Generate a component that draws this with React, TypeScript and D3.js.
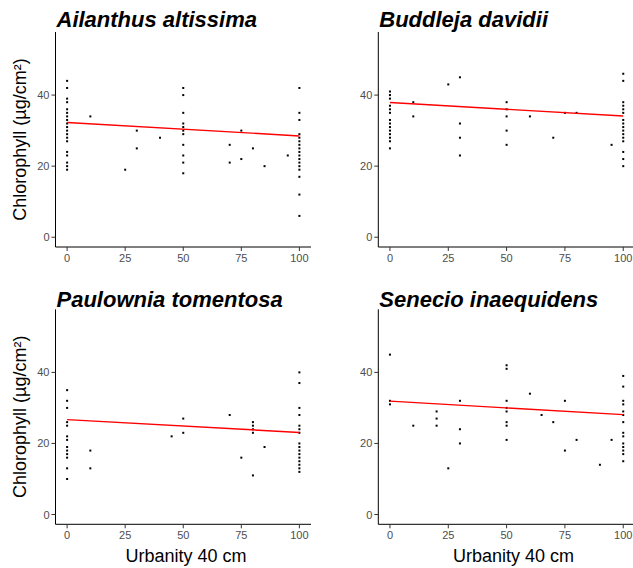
import React from "react";
import * as d3 from "d3";

// ---- data (urbanity x, chlorophyll y grouped by x) ----
const species = ["Ailanthus altissima", "Buddleja davidii", "Paulownia tomentosa", "Senecio inaequidens"];

const ailanthus: [number, number[]][] = [
  [0, [44, 42, 39, 38, 36, 35, 34, 33, 32, 31, 30, 29, 28, 27, 24, 23, 21, 20, 19]],
  [10, [34]], [25, [19]], [30, [30, 25]], [40, [28]],
  [50, [42, 40, 35, 32, 31, 30, 29, 26, 23, 21, 18]],
  [70, [26, 21]], [75, [30, 22]], [80, [25]], [85, [20]], [95, [23]],
  [100, [42, 35, 33, 29, 28, 27, 26, 25, 24, 23, 22, 21, 20, 19, 17, 12, 6]],
];
const buddleja: [number, number[]][] = [
  [0, [41, 40, 39, 37, 36, 35, 33, 32, 31, 30, 29, 28, 27, 25]],
  [10, [38, 34]], [25, [43]], [30, [45, 32, 28, 23]],
  [50, [38, 36, 34, 30, 26]],
  [60, [34]], [70, [28]], [75, [35]], [80, [35]], [95, [26]],
  [100, [46, 44, 38, 37, 36, 35, 33, 32, 31, 30, 29, 28, 27, 24, 22, 20]],
];
const paulownia: [number, number[]][] = [
  [0, [35, 32, 30, 26, 25, 22, 21, 19, 18, 17, 16, 13, 10]],
  [10, [18, 13]], [45, [22]], [50, [27, 23]], [70, [28]], [75, [16]],
  [80, [26, 25, 24, 23, 11]], [85, [19]],
  [100, [40, 37, 30, 28, 25, 24, 23, 20, 19, 18, 17, 16, 15, 14, 13, 12]],
];
const senecio: [number, number[]][] = [
  [0, [45, 32, 31]], [10, [25]], [20, [29, 27, 25]], [25, [13]], [30, [32, 24, 20]],
  [50, [42, 41, 32, 30, 29, 26, 25, 21]],
  [60, [34]], [65, [28]], [70, [26]], [75, [32, 18]], [80, [21]], [90, [14]], [95, [21]],
  [100, [39, 36, 32, 31, 29, 28, 26, 23, 22, 20, 19, 18, 17, 15]],
];
const seriesData = [ailanthus, buddleja, paulownia, senecio];

// fitted regression lines (intercept, slope)
const fitIntercept = [32.3, 37.9, 26.7, 31.9];
const fitSlope = [-0.038, -0.038, -0.036, -0.038];

const xTicks = [0, 25, 50, 75, 100];
const yTicks = [0, 20, 40];
const xDomain: [number, number] = [-5, 105];
const yDomain: [number, number] = [-2.75, 57.75];
const xTitle = "Urbanity 40 cm";
const yTitle = "Chlorophyll (µg/cm²)";

// ---- layout ----
const W = 633, H = 568;
const layout = [
  { left: 55.5, right: 311, top: 32, bottom: 247, titleY: 26.5, yLab: true, xLab: false, xLabX: 186 },
  { left: 378.3, right: 634.9, top: 32, bottom: 247, titleY: 26.5, yLab: false, xLab: false, xLabX: 513.5 },
  { left: 55.5, right: 311, top: 309.3, bottom: 524.3, titleY: 306.7, yLab: true, xLab: true, xLabX: 186 },
  { left: 378.3, right: 634.9, top: 309.3, bottom: 524.3, titleY: 306.7, yLab: false, xLab: true, xLabX: 513.5 },
];
const FONT = "Arial, 'Liberation Sans', sans-serif";

function Panel({ i }: { i: number }) {
  const L = layout[i];
  const x = d3.scaleLinear().domain(xDomain).range([L.left, L.right]);
  const y = d3.scaleLinear().domain(yDomain).range([L.bottom, L.top]);
  const pts: [number, number][] = [];
  seriesData[i].forEach(([xv, ys]) => ys.forEach((yv) => pts.push([xv, yv])));
  const line = d3.line<number>().x((d) => x(d)).y((d) => y(fitIntercept[i] + fitSlope[i] * d));
  return (
    <g>
      <text x={L.left + 1} y={L.titleY} fontFamily={FONT} fontSize={22} fontWeight="bold" fontStyle="italic" fill="#000">
        {species[i]}
      </text>
      {pts.map(([a, b], k) => (
        <rect key={k} x={x(a) - 1} y={y(b) - 1} width={2} height={2} fill="#000" />
      ))}
      <path d={line([0, 100]) || ""} stroke="#ff0000" strokeWidth={1.4} fill="none" />
      <line x1={L.left} x2={L.right} y1={L.bottom} y2={L.bottom} stroke="#000" strokeWidth={1} />
      <line x1={L.left} x2={L.left} y1={L.top} y2={L.bottom} stroke="#000" strokeWidth={1} />
      {xTicks.map((t) => (
        <g key={"x" + t}>
          <line x1={x(t)} x2={x(t)} y1={L.bottom} y2={L.bottom + 4} stroke="#333" strokeWidth={1} />
          <text x={x(t)} y={L.bottom + 15} textAnchor="middle" fontFamily={FONT} fontSize={11} fill="#4d4d4d">{t}</text>
        </g>
      ))}
      {yTicks.map((t) => (
        <g key={"y" + t}>
          <line x1={L.left - 4} x2={L.left} y1={y(t)} y2={y(t)} stroke="#333" strokeWidth={1} />
          <text x={L.left - 6} y={y(t) + 4} textAnchor="end" fontFamily={FONT} fontSize={11} fill="#4d4d4d">{t}</text>
        </g>
      ))}
      {L.yLab && (
        <text transform={`translate(26,${(L.top + L.bottom) / 2}) rotate(-90)`} textAnchor="middle" fontFamily={FONT} fontSize={18} fill="#000">
          {yTitle}
        </text>
      )}
      {L.xLab && (
        <text x={L.xLabX} y={561.7} textAnchor="middle" fontFamily={FONT} fontSize={18} fill="#000">
          {xTitle}
        </text>
      )}
    </g>
  );
}

export default function App() {
  return (
    <svg width={W} height={H} style={{ position: "fixed", left: 0, top: 0, background: "#fff" }}>
      <rect width={W} height={H} fill="#fff" />
      {[0, 1, 2, 3].map((i) => <Panel key={i} i={i} />)}
    </svg>
  );
}
